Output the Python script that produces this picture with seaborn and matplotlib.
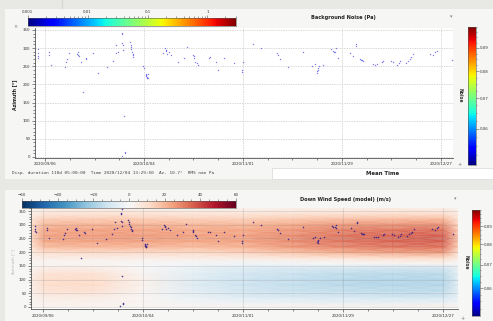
import numpy as np
import pandas as pd
import matplotlib
matplotlib.use("Agg")
import matplotlib.pyplot as plt
import matplotlib.dates as mdates
import matplotlib.colors as mcolors
import matplotlib.cm as cm
from matplotlib.patches import Rectangle
from matplotlib.ticker import FixedLocator, FixedFormatter, NullFormatter, MultipleLocator, LogLocator
import seaborn as sns

# ---------------- data ----------------
REF_DATE = "2020-09-06"
date_tick_labels = ["2020/09/06", "2020/10/04", "2020/11/01", "2020/11/29", "2020/12/27"]

# detections: days after 2020-09-06, back-azimuth in degrees
det_days = [-2.1, -2.1, -2.1, -2.0, 1.1, 1.1, 1.7, 5.7, 5.9, 6.1, 6.9,
            9.0, 9.2, 9.3, 9.5, 10.2, 10.8, 11.6, 11.7, 13.7, 15.1, 17.6,
            19.3, 20.0, 20.2, 20.7, 22.3, 21.9, 21.9, 21.9, 22.2, 22.1, 22.3,
            22.6, 22.5, 21.7, 24.0, 24.2, 24.2, 24.4, 24.6, 24.8, 25.0, 24.9,
            27.8, 27.9, 28.5, 28.7, 28.9, 29.0, 28.6, 29.2, 28.8,
            33.5, 33.9, 34.1, 34.6, 35.2, 35.7, 34.3, 37.5, 39.4, 40.1,
            42.0, 42.2, 42.1, 42.5, 42.9, 43.2, 46.3, 46.7, 48.5, 49.0, 50.7,
            53.5, 56.0, 55.8, 55.8, 58.9, 61.0, 65.5, 65.8, 66.5, 68.6, 73.0,
            75.6, 76.3, 77.1, 77.2, 76.8, 77.6, 78.7, 77.0,
            80.9, 81.4, 81.8, 82.2, 82.0, 82.8, 86.3, 87.9, 88.1, 87.2,
            89.1, 89.4, 89.6, 89.9, 92.8, 93.3, 94.0, 95.2, 95.7, 97.8, 98.5,
            99.5, 100.0, 100.4, 102.1, 102.6, 103.1, 104.0, 103.5,
            108.9, 109.8, 110.3, 110.8, 115.0]
det_az = [297, 286, 278, 272, 289, 281, 253, 247, 262, 269, 286,
          284, 288, 281, 279, 261, 180, 274, 270, 286, 232, 247,
          265, 286, 309, 288, 358, 343, 338, 315, 309, 295, 113,
          15, 10, 3, 318, 309, 304, 297, 290, 285, 281, 276,
          251, 244, 230, 226, 221, 217, 223, 228, 219,
          286, 300, 291, 284, 288, 281, 296, 263, 272, 302,
          281, 277, 272, 263, 258, 253, 272, 275, 263, 239, 273,
          259, 263, 235, 240, 311, 300, 286, 281, 269, 247, 290,
          250, 255, 246, 241, 237, 252, 254, 232,
          297, 293, 290, 300, 288, 272, 287, 306, 311, 278,
          270, 266, 268, 265, 257, 254, 256, 263, 265, 265, 263,
          254, 259, 265, 259, 265, 270, 285, 275,
          285, 280, 288, 292, 267]

noise_top_ticks = [0.001, 0.01, 0.1, 1]
noise_top_labels = ["0.001", "0.01", "0.1", "1"]
noise_side_ticks = [0.06, 0.07, 0.08, 0.09]
noise_side_labels = ["0.06", "0.07", "0.08", "0.09"]
wind_ticks = [-60, -40, -20, 0, 20, 40, 60]
az_ticks = [0, 50, 100, 150, 200, 250, 300, 350]

# modelled down-wind speed (m/s): rows = azimuth, columns = days after 2020-09-06
wind_az = [0, 20, 40, 60, 80, 100, 120, 140, 160, 180, 200, 220, 240, 260, 280, 300, 320, 340, 360]
wind_days = [-3.3, 0.5, 14, 28, 42, 56, 70, 84, 98, 112, 116.3]
wind_speed = [
    [1, 3, 3, 2, 2, 2, 3, 3, 3, 4, 2],
    [1, 3, 3, 1, -2, -4, -5, -6, -6, -6, -3],
    [2, 6, 6, 1, -5, -9, -11, -12, -13, -13, -6],
    [4, 9, 10, 2, -7, -12, -14, -15, -16, -16, -7],
    [5, 11, 12, 3, -8, -13, -15, -17, -18, -18, -8],
    [5, 11, 12, 3, -8, -13, -15, -17, -18, -18, -8],
    [4, 10, 10, 2, -7, -12, -14, -16, -17, -17, -7],
    [2, 5, 5, 0, -5, -9, -11, -12, -13, -13, -6],
    [1, 1, 1, 0, -1, -2, -1, 0, 1, 2, 0],
    [3, 5, 5, 5, 5, 6, 8, 10, 12, 13, 6],
    [6, 12, 13, 13, 13, 15, 19, 23, 26, 27, 12],
    [10, 20, 21, 21, 20, 22, 27, 30, 33, 34, 16],
    [12, 24, 25, 25, 24, 25, 29, 33, 36, 37, 17],
    [13, 25, 26, 26, 25, 25, 29, 33, 36, 37, 17],
    [12, 24, 25, 25, 24, 24, 27, 31, 33, 34, 16],
    [11, 21, 22, 22, 21, 21, 24, 27, 28, 29, 14],
    [8, 15, 16, 16, 15, 15, 17, 19, 20, 21, 10],
    [4, 8, 9, 9, 8, 8, 9, 10, 11, 11, 6],
    [2, 3, 4, 4, 3, 3, 4, 4, 5, 5, 3],
]

# ---------------- helpers ----------------
W, H = 493, 321
sns.set_style("white")
plt.rcParams["font.family"] = ["DejaVu Sans"]
plt.rcParams["axes.linewidth"] = 0.6

ref = mdates.date2num(pd.Timestamp(REF_DATE))
def dnum(days):
    return ref + np.asarray(days, dtype=float)

major_x = [mdates.date2num(pd.Timestamp(s.replace("/", "-"))) for s in date_tick_labels]
minor_x = list(np.arange(major_x[0] - 7, major_x[-1] + 8, 7))

def fr(x0, y0, x1, y1):
    return [x0 / W, 1 - y1 / H, (x1 - x0) / W, (y1 - y0) / H]

def ft(x, y):
    return (x / W, 1 - y / H)

TICK_FS = 2.9
TXT = "#333333"
SP = "#555555"

fig = plt.figure(figsize=(W / 100, H / 100), dpi=100)
fig.patch.set_facecolor("#e8e8e4")
# panel cards / UI surfaces
fig.patches.append(Rectangle(ft(5, 179), 488 / W, 170 / H, transform=fig.transFigure,
                             facecolor="#f6f6f4", edgecolor="none", zorder=-5))
fig.patches.append(Rectangle(ft(5, 321), 488 / W, 131 / H, transform=fig.transFigure,
                             facecolor="#f6f6f4", edgecolor="none", zorder=-5))
fig.patches.append(Rectangle(ft(272, 179), 221 / W, 11 / H, transform=fig.transFigure,
                             facecolor="#ffffff", edgecolor="#d8d8d4", linewidth=0.5, zorder=-4))
fig.lines.append(plt.Line2D([62 / W, 62 / W], [1, 1 - 8 / H], transform=fig.transFigure,
                            color="#d4d4d0", linewidth=0.8))

def style_axis(ax, xlo, xhi, ylo, yhi):
    ax.set_xlim(xlo, xhi)
    ax.set_ylim(ylo, yhi)
    for s in ("top", "right"):
        ax.spines[s].set_visible(False)
    for s in ("left", "bottom"):
        ax.spines[s].set_color(SP)
        ax.spines[s].set_linewidth(0.6)
    ax.xaxis.set_major_locator(FixedLocator(major_x))
    ax.xaxis.set_minor_locator(FixedLocator(minor_x))
    ax.xaxis.set_major_formatter(mdates.DateFormatter("%Y/%m/%d"))
    ax.yaxis.set_major_locator(FixedLocator(az_ticks))
    ax.yaxis.set_minor_locator(MultipleLocator(10))
    ax.tick_params(which="both", labelsize=TICK_FS, colors=SP, labelcolor=TXT,
                   width=0.5, pad=1.2)
    ax.tick_params(which="major", length=2.2)
    ax.tick_params(which="minor", length=1.2)
    ax.tick_params(axis="both", which="both", direction="out", left=True, bottom=True)
    ax.set_xlabel("")
    ax.set_ylabel("")

# ---------------- top panel: detections ----------------
ax1 = fig.add_axes(fr(35, 27.8, 453, 157.7))
ax1.set_facecolor("white")
sns.scatterplot(x=dnum(det_days), y=det_az, ax=ax1, color="#4444dd", s=1.0,
                marker="o", linewidth=0, alpha=0.7, legend=False)
style_axis(ax1, ref - 2.83, ref + 115.4, -2, 356)
ax1.grid(True, which="major", color="#c9c9c9", linestyle=(0, (2, 1.5)), linewidth=0.5)
ax1.set_axisbelow(True)

cb1 = fig.add_axes(fr(27.7, 18, 236, 26))
norm_top = mcolors.LogNorm(vmin=0.001, vmax=3)
c1 = fig.colorbar(cm.ScalarMappable(norm=norm_top, cmap="jet"), cax=cb1, orientation="horizontal")
c1.outline.set_linewidth(0.4)
c1.outline.set_edgecolor(SP)
cb1.xaxis.set_ticks_position("top")
cb1.xaxis.set_major_locator(FixedLocator(noise_top_ticks))
cb1.xaxis.set_major_formatter(FixedFormatter(noise_top_labels))
cb1.xaxis.set_minor_locator(LogLocator(base=10, subs=range(2, 10)))
cb1.xaxis.set_minor_formatter(NullFormatter())
cb1.tick_params(which="both", labelsize=TICK_FS, colors=SP, labelcolor=TXT, width=0.4, pad=1)
cb1.tick_params(which="major", length=2)
cb1.tick_params(which="minor", length=1.2)

norm_side = mcolors.LogNorm(vmin=0.05, vmax=0.1)
def side_cbar(rect, label_xy):
    cax = fig.add_axes(rect)
    cb = fig.colorbar(cm.ScalarMappable(norm=norm_side, cmap="jet"), cax=cax, orientation="vertical")
    cb.outline.set_linewidth(0.4)
    cb.outline.set_edgecolor(SP)
    cax.yaxis.set_major_locator(FixedLocator(noise_side_ticks))
    cax.yaxis.set_major_formatter(FixedFormatter(noise_side_labels))
    cax.yaxis.set_minor_locator(FixedLocator(list(np.arange(0.0525, 0.1, 0.0025))))
    cax.yaxis.set_minor_formatter(NullFormatter())
    cax.tick_params(which="both", labelsize=TICK_FS, colors=SP, labelcolor=TXT, width=0.4, pad=1)
    cax.tick_params(which="major", length=1.8)
    cax.tick_params(which="minor", length=1.0)
    fig.text(*ft(*label_xy), "Noise", rotation=270, fontsize=3.3, fontweight="bold",
             color=TXT, ha="center", va="center")
    return cax

side_cbar(fr(467.7, 27, 476, 165), (460, 95))

fig.text(*ft(343, 17), "Background Noise (Pa)", fontsize=3.6, fontweight="bold",
         color="#222222", ha="center", va="center")
fig.text(*ft(451, 17), "\u25be", fontsize=3.5, color="#888888", ha="center", va="center")
fig.text(*ft(15, 95), "Azimuth [\u00b0]", rotation=90, fontsize=3.4, fontweight="bold",
         color="#222222", ha="center", va="center")
fig.text(*ft(15, 27), "\u00d7", fontsize=3.5, color="#777777", ha="center", va="center")
fig.text(*ft(460, 165), "+", fontsize=3.5, color="#777777", ha="center", va="center")
fig.text(*ft(12, 173), "Disp. duration 118d 05:00:00  Time 2020/12/04 13:29:50  Az. 10.7\u00b0  RMS nan Pa",
         family=["DejaVu Sans Mono"], fontsize=3.15, color="#444444", ha="left", va="center")
fig.text(*ft(383, 173.5), "Mean Time", fontsize=3.9, fontweight="bold", color="#222222",
         ha="center", va="center")

# ---------------- bottom panel: wind model ----------------
ax2 = fig.add_axes(fr(31, 208, 458, 309))
ax2.set_facecolor("white")
norm_w = mcolors.Normalize(vmin=-60, vmax=60)
Xg, Yg = np.meshgrid(dnum(wind_days), np.asarray(wind_az, dtype=float))
ax2.pcolormesh(Xg, Yg, np.asarray(wind_speed, dtype=float), cmap="RdBu_r", norm=norm_w,
               shading="gouraud", alpha=0.85, zorder=0)
style_axis(ax2, ref + wind_days[0], ref + wind_days[-1], -7.3, 361)
ax2.grid(True, which="major", color="#8a8a8a", linestyle="-", linewidth=0.45, alpha=0.35)
ax2.set_axisbelow(False)
sns.scatterplot(x=dnum(det_days), y=det_az, ax=ax2, color="#3a2488", s=1.3,
                marker="o", linewidth=0, alpha=0.9, legend=False, zorder=4)

cb2 = fig.add_axes(fr(22, 200.7, 236, 207.7))
c2 = fig.colorbar(cm.ScalarMappable(norm=norm_w, cmap="RdBu_r"), cax=cb2, orientation="horizontal")
c2.outline.set_linewidth(0.4)
c2.outline.set_edgecolor(SP)
cb2.xaxis.set_ticks_position("top")
cb2.xaxis.set_major_locator(FixedLocator(wind_ticks))
cb2.xaxis.set_minor_locator(MultipleLocator(5))
cb2.tick_params(which="both", labelsize=TICK_FS, colors=SP, labelcolor=TXT, width=0.4, pad=1)
cb2.tick_params(which="major", length=2)
cb2.tick_params(which="minor", length=1.2)

side_cbar(fr(472, 210, 480, 316), (466, 262))

fig.text(*ft(345, 199), "Down Wind Speed (model) (m/s)", fontsize=3.6, fontweight="bold",
         color="#222222", ha="center", va="center")
fig.text(*ft(455, 199), "\u25be", fontsize=3.5, color="#888888", ha="center", va="center")
fig.text(*ft(13, 262), "Azimuth [\u00b0]", rotation=90, fontsize=3.2,
         color="#b8b8b8", ha="center", va="center")
fig.text(*ft(463, 318), "+", fontsize=3.5, color="#777777", ha="center", va="center")

fig.savefig("out.png", dpi=100, facecolor=fig.get_facecolor())
